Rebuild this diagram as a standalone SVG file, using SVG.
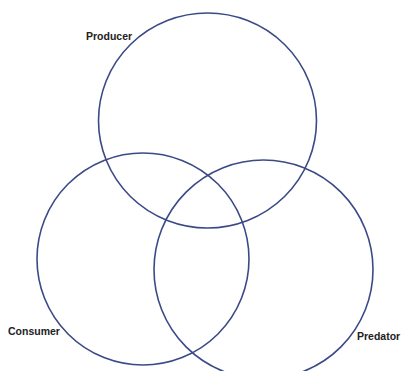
<svg xmlns="http://www.w3.org/2000/svg" width="401" height="371" viewBox="0 0 401 371">
<style>
.c{fill:none;stroke:#3b4a86;stroke-width:1.6}
.t{font-family:"Liberation Sans",Arial,sans-serif;font-weight:bold;font-size:10.5px;fill:#222}
</style>
<rect width="401" height="371" fill="#fff"/>
<g id="producer">
<ellipse class="c" cx="207.5" cy="120.5" rx="109" ry="107.5"/>
<text class="t" x="86" y="40">Producer</text>
</g>
<g id="consumer">
<ellipse class="c" cx="143" cy="259" rx="106" ry="106"/>
<text class="t" x="8" y="335">Consumer</text>
</g>
<g id="predator">
<ellipse class="c" cx="263.5" cy="269.5" rx="109.5" ry="109.5"/>
<text class="t" x="357" y="340">Predator</text>
</g>
<g id="connectors"/>
</svg>
